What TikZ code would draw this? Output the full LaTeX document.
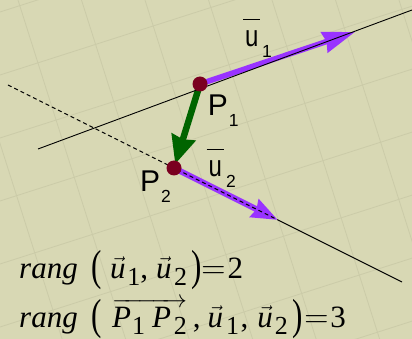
\documentclass[tikz,border=0pt]{standalone}
\usepackage{fontspec}
\usepackage{graphicx}
\setmainfont{Liberation Serif}
\newfontfamily\lblfont{Liberation Sans}
\usetikzlibrary{arrows.meta}
\definecolor{bgc}{RGB}{216,216,180}
\definecolor{gridc}{RGB}{203,203,168}
\definecolor{vpurple}{RGB}{153,51,255}
\definecolor{vgreen}{RGB}{0,100,0}
\definecolor{dotc}{RGB}{122,0,32}
% label helpers
\newcommand{\lblsub}[1]{\raisebox{-10.5pt}{\fontsize{17.5}{17.5}\selectfont #1}}
\newcommand{\baru}{\makebox[0pt][l]{\hspace{-2pt}\raisebox{27pt}{\rule{17pt}{1.4pt}}}\scalebox{0.8}[1]{u}}
% formula helpers
\newcommand{\fsub}[1]{\raisebox{-7pt}{\upshape\fontsize{26}{26}\selectfont #1}}
\newcommand{\vu}{$\vec{\mbox{\itshape u}}$}
\newcommand{\lpar}{\raisebox{-2.2pt}{\scalebox{1}[1.4]{(}}}
\newcommand{\rpar}{\raisebox{-2.2pt}{\scalebox{1}[1.4]{)}}}
\newcommand{\feq}{\scalebox{1.35}{$=$}}
\tikzset{
  gridline/.style={draw=gridc, line width=0.8pt},
  thinline/.style={draw=black, line width=0.9pt},
  dashline/.style={draw=black, line width=0.9pt, dash pattern=on 4pt off 3pt},
  dotnode/.style={circle, fill=dotc, minimum size=15pt, inner sep=0pt},
  vecone/.style={draw=vpurple, line width=5.5pt, -{Stealth[length=32pt,width=21pt,inset=2pt]}},
  vectwo/.style={draw=vpurple, line width=6pt, -{Stealth[length=26pt,width=19pt,inset=2pt]}},
  pvec/.style={draw=vgreen, line width=6.5pt, -{Stealth[length=28pt,width=24pt,inset=2pt]}},
  lbl/.style={anchor=base west, inner sep=0pt, font=\lblfont\fontsize{30}{30}\selectfont},
  formula/.style={anchor=base west, inner sep=0pt, font=\fontsize{31}{31}\selectfont}
}
\begin{document}
\begin{tikzpicture}[x=1pt,y=-1pt]
\useasboundingbox (0,0) rectangle (412,339);
\fill[bgc] (0,0) rectangle (412,339);
\begin{scope}
  \clip (0,0) rectangle (412,339);
  \foreach \k in {-1,...,7} {\draw[gridline] (-10,{78.2+63*\k}) -- (420,{-59.4+63*\k});}
  \foreach \k in {-2,...,6} {\draw[gridline] ({14.8+63.5*\k},-10) -- ({129.1+63.5*\k},350);}
\end{scope}
% points and line ends
\coordinate (p1) at (200,84);
\coordinate (p2) at (174,168);
\coordinate (u1) at (355,32);
\coordinate (u2) at (278,220);
\coordinate (l1a) at (38,149);
\coordinate (l1b) at (412,10);
\coordinate (l2a) at (8,85);
\coordinate (l2b) at (402,282);
% vectors
\draw[vecone] (p1) -- (u1);
\draw[vectwo] (p2) -- (u2);
\draw[pvec, shorten >=4pt] (p1) -- (p2);
% lines
\draw[thinline] (l1a) -- (l1b);
\draw[dashline] (l2a) -- (u2);
\draw[thinline] (u2) -- (l2b);
% points
\node[dotnode] (P1) at (p1) {};
\node[dotnode] (P2) at (p2) {};
% labels
\node[lbl] (lu1) at (245,47) {\baru\hspace{3.5pt}\lblsub{1}};
\node[lbl] (lP1) at (207.6,116) {P\hspace{1pt}\lblsub{1}};
\node[lbl] (lP2) at (140,192) {P\hspace{1pt}\lblsub{2}};
\node[lbl] (lu2) at (208.5,177) {\baru\hspace{4pt}\lblsub{2}};
% formulas
\node[formula] (f1) at (19,278) {\textit{rang}\hspace{14pt}\lpar\hspace{8pt}\vu\hspace{1.7pt}\fsub{1}\hspace{0pt},\hspace{8pt}\vu\hspace{2.5pt}\fsub{2}\hspace{4pt}\rpar\hspace{0pt}\feq\hspace{2pt}2};
\node[formula] (f2) at (19,327) {\textit{rang}\hspace{14pt}\lpar\hspace{10pt}$\overrightarrow{\mbox{\itshape P\hspace{1pt}\fsub{1}\hspace{7pt}P\hspace{3pt}\fsub{2}}}$\hspace{6pt},\hspace{7pt}\vu\hspace{3pt}\fsub{1}\hspace{1.5pt},\hspace{9pt}\vu\hspace{2pt}\fsub{2}\hspace{5pt}\rpar\hspace{1pt}\feq\hspace{2pt}3};
\end{tikzpicture}
\end{document}
